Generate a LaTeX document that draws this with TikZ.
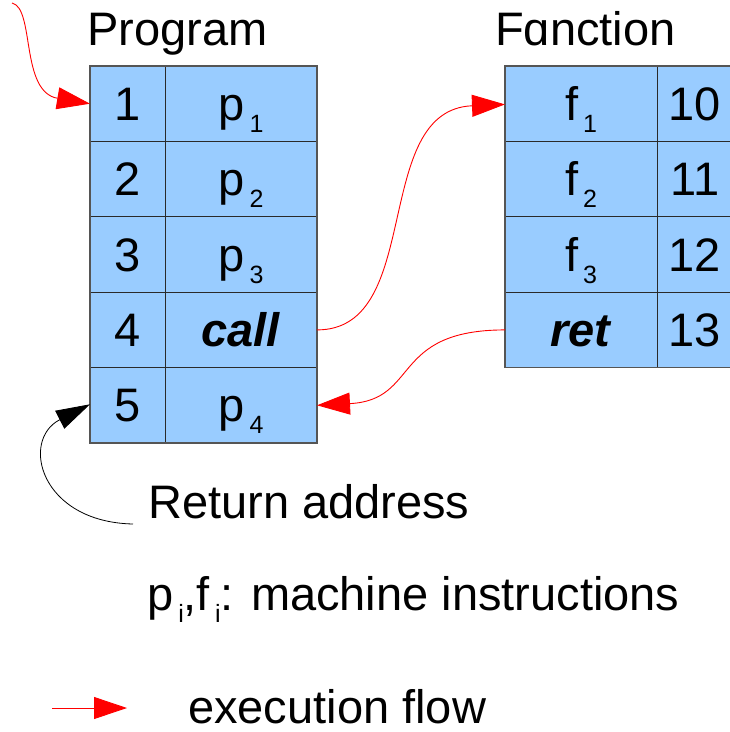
\documentclass[tikz,border=0pt]{standalone}
\usepackage{fontspec}
\setmainfont{Liberation Sans}
\usetikzlibrary{arrows.meta}
\definecolor{cellblue}{HTML}{99CCFF}
\definecolor{cellline}{HTML}{2A2A2A}
\definecolor{flowred}{HTML}{FF0000}
\newcommand{\bigf}{\fontsize{47}{47}\selectfont}
\newcommand{\sbs}[1]{\kern5pt\raisebox{-12pt}{\fontsize{25}{25}\selectfont #1}}
\begin{document}
\begin{tikzpicture}[x=1pt,y=-1pt,
  cell/.style={draw=cellline,line width=1pt,fill=cellblue,inner sep=0pt,outer sep=0pt,
    minimum height=75.4pt,text height=33pt,text depth=0pt,font=\bigf},
  narrow/.style={cell,minimum width=75pt},
  wide/.style={cell,minimum width=152pt},
  lbl/.style={anchor=base west,inner sep=0pt,font=\bigf},
  flow/.style={draw=flowred,line width=0.9pt,-{Triangle[length=33pt,width=22pt]}},
  ret/.style={draw=black,line width=0.8pt,-{Triangle[length=34pt,width=20pt]}}
]
\useasboundingbox (0,0) rectangle (730,732);
\clip (0,0) rectangle (730,732);
% titles
\node[lbl] (tprog) at (87,45) {Program};
\node[lbl] (tfunc) at (495,45) {Fɑnction};
% program table
\node[narrow] (n1) at (127.5,103.7) {1};
\node[wide]   (p1) at (241,103.7) {p\sbs{1}};
\node[narrow] (n2) at (127.5,179.1) {2};
\node[wide]   (p2) at (241,179.1) {p\sbs{2}};
\node[narrow] (n3) at (127.5,254.5) {3};
\node[wide]   (p3) at (241,254.5) {p\sbs{3}};
\node[narrow] (n4) at (127.5,329.9) {4};
\node[wide]   (p4) at (241,329.9) {\textbf{\textit{call}}};
\node[narrow] (n5) at (127.5,405.3) {5};
\node[wide]   (p5) at (241,405.3) {p\sbs{4}};
% function table
\node[wide]   (f1) at (581,103.7) {f\sbs{1}};
\node[narrow,minimum width=76pt] (m1) at (695,103.7) {10};
\node[wide]   (f2) at (581,179.1) {f\sbs{2}};
\node[narrow,minimum width=76pt] (m2) at (695,179.1) {11};
\node[wide]   (f3) at (581,254.5) {f\sbs{3}};
\node[narrow,minimum width=76pt] (m3) at (695,254.5) {12};
\node[wide]   (f4) at (581,329.9) {\textbf{\textit{ret}}};
\node[narrow,minimum width=76pt] (m4) at (695,329.9) {13};
% outer borders slightly grey
\draw[draw=cellline!80,line width=1.3pt] (n1.north west) rectangle (p5.south east);
\draw[draw=cellline!80,line width=1.3pt] (f1.north west) rectangle (m4.south east);
% texts below
\node[lbl] (retaddr) at (148,518) {Return address};
\node[lbl] (legend) at (147,610) {p\sbs{i},f\sbs{i}: machine instructions};
\node[lbl] (exec) at (188,723) {execution flow};
% arrows
\coordinate (start) at (12,3);
\draw[flow] (start) .. controls (35,8) and (20,92) .. (n1.west);
\draw[flow] (p4.east) .. controls (425,330) and (370,110) .. ([yshift=-0.7pt]f1.west);
\draw[flow] (f4.west) .. controls (390,330) and (420,400) .. (p5.west -| p5.east);
\coordinate (raddr) at (133,524);
\draw[ret] (raddr) .. controls (40,522) and (20,440) .. ([yshift=1pt]n5.west);
\coordinate (lg1) at (52,708);
\coordinate (lg2) at (127,708);
\draw[flow] (lg1) -- (lg2);
\end{tikzpicture}
\end{document}
